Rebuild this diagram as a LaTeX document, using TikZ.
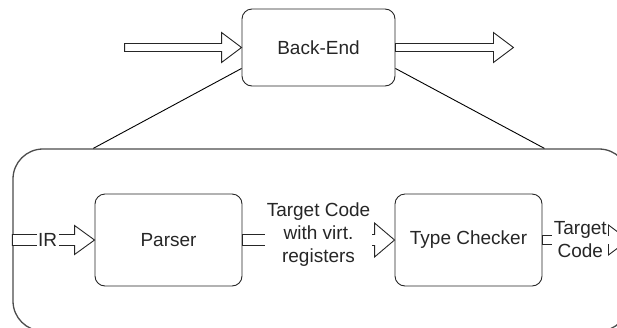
\documentclass[tikz,border=0pt]{standalone}
\usepackage{fontspec}
\setmainfont{Liberation Sans}
\usetikzlibrary{calc}

\tikzset{
  stage/.style={draw=black!85, line width=0.9pt, rounded corners=10pt,
    minimum width=147pt, minimum height=92pt, text=black!85},
  % hollow block arrow: shaft half width #1, head half width #2
  flow/.style 2 args={draw=black!85, line width=0.9pt, fill=white, to path={
    ($(\tikztostart)+(0,#1)$) -- ($(\tikztotarget)+(-20,#1)$)
    -- ($(\tikztotarget)+(-20,#2)$) -- (\tikztotarget)
    -- ($(\tikztotarget)+(-20,-#2)$) -- ($(\tikztotarget)+(-20,-#1)$)
    -- ($(\tikztostart)+(0,-#1)$) -- cycle}},
  lbl/.style={fill=white, inner xsep=1.5pt, inner ysep=0pt, align=center, text=black!85},
}

\begin{document}
\begin{tikzpicture}[x=1pt, y=-1pt, font=\fontsize{19}{23}\selectfont]
  \clip (0,0) rectangle (617,327);

  % top level
  \node[stage, minimum width=153pt, minimum height=77pt] (backend) at (318.5,47.5) {Back-End};
  \coordinate (src) at ($(backend.west)+(-117,0)$);
  \coordinate (res) at ($(backend.east)+(118,0)$);
  \draw[flow={4}{15}] (src) to (backend.west);
  \draw[flow={4}{15}] (backend.east) to (res);

  % inside the back-end
  \node[draw=black!70, line width=1.3pt, rounded corners=30pt, inner sep=0pt,
    minimum width=616pt, minimum height=182pt] (zoom) at (321,240) {};
  \draw[line width=0.9pt] ($(backend.south west)+(0,-18)$) -- ($(zoom.north west)+(81,0)$);
  \draw[line width=0.9pt] ($(backend.south east)+(0,-18)$) -- ($(zoom.north west)+(532,0)$);

  \node[stage] (parser) at (168.5,240) {Parser};
  \node[stage] (typechk) at (468.5,240) {Type Checker};
  \coordinate (tgt) at ($(typechk.east)+(86,0)$);

  \draw[flow={5.5}{14.5}] (zoom.west) to (parser.west);
  \draw[flow={5.5}{17}] (parser.east) to (typechk.west);
  \draw[flow={4.5}{15}] (typechk.east) to (tgt);

  \node[lbl] (irlbl) at ($(zoom.west)!0.43!(parser.west)$) {IR};
  \node[lbl, yshift=5pt] (midlbl) at ($(parser.east)!0.5!(typechk.west)$) {Target Code\\with virt.\\registers};
  \node[lbl] (outlbl) at ($(typechk.east)!0.44!(tgt)$) {Target\\Code};
\end{tikzpicture}
\end{document}
